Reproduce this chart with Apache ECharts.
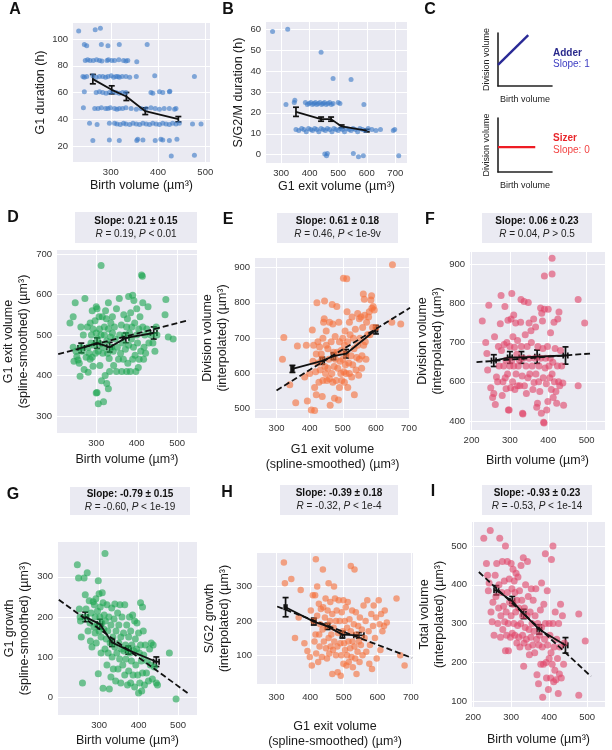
<!DOCTYPE html>
<html>
<head>
<meta charset="utf-8">
<script src="https://cdn.jsdelivr.net/npm/echarts@6/dist/echarts.min.js"></script>
<style>
  html, body { margin: 0; background: #fff; }
  #chart { width: 612px; height: 750px; }
</style>
</head>
<body>
<div id="chart"></div>
<script>
const FONT = '"Liberation Sans", Arial, Helvetica, sans-serif'
const BG = '#eaeaf2'

// ---------- A: G1 duration vs birth volume ----------
const aXTicks = [300, 400, 500]
const aYTicks = [20, 40, 60, 80, 100]
const aPts = [
  [232,106],[267,107],[278,108],
  [244,96],[249,95],[280,96],[294,95],[318,96],[377,96],
  [246,84],[251,84.5],[256,84],[263,84],[270,84.5],[276,84],[281,83.5],[292,84],[295,84.5],[302,84],[308,84],[317,84.5],[327,84],[332,83.5],[336,84],[355,83],
  [241,72],[244,71.5],[249,72],[262,72.5],[269,71.5],[276,72],[283,72],[289,71.5],[294,72],[301,72.5],[306,71.5],[311,72],[315,72],[318,71.5],[324,72],[332,72],[340,71.5],[354,72],[393,72.5],[477,72],
  [244,60.5],[269,60],[276,60.5],[283,60],[290,59.5],[297,60],[304,60.5],[311,60],[318,59.5],[325,60],[332,60],[385,60],[389,59.5],[403,60.5],[410,60],[424,60.5],[425,61],
  [242,48.5],[266,48],[273,48],[280,48.5],[289,48],[294,48],[299,48.5],[308,48],[313,47.5],[318,48],[325,48],[332,48.5],[343,48],[354,47.5],[364,48],[375,48],[385,48.5],[394,48],[403,47.5],[413,48],[424,48],[435,47.5],[438,48],
  [255,37],[271,36],[297,37],[308,37],[313,36.5],[320,36],[327,37],[332,36.5],[340,36],[347,37],[354,36.5],[361,36],[368,37],[375,36.5],[382,36],[389,37],[396,36.5],[403,36],[410,37],[417,36.5],[424,36],[431,37],[438,36.5],[445,37],[473,36.5],[491,36.5],
  [262,24],[297,24.5],[318,24],[355,24],[357,25],[368,24.5],[394,24],[406,25],[410,24.5],[424,24],[440,25],
  [428,12.5],[477,13]
]
const aMeanX = [262, 302, 333, 373, 443]
const aMeanY = [70, 62, 57, 46, 40]
const aMeanYErr = [3.5, 3, 3, 2.5, 2]

// ---------- B: S/G2/M duration vs G1 exit volume ----------
const bXTicks = [300, 400, 500, 600, 700]
const bYTicks = [0, 10, 20, 30, 40, 50, 60]
const bPts = [
  [270,59],[323,60],[440,49],[482,36.5],[545,36],
  [317,24],[346,25],[348,26],
  [385,25],[392,24],[398,24.5],[404,25],[410,24],[415,24.5],[420,25],[425,24],[430,24.5],[436,25],[442,24],[447,24.5],[452,25],[458,24],[464,24.5],[470,25],[476,24],[482,24.5],[500,25],[506,24.5],[590,24],
  [352,12],[362,11.5],[372,12.5],[380,12],[388,11],[396,12.5],[404,12],[410,11.5],[418,12.5],[425,12],[432,11],[440,12.5],[447,12],[455,11.5],[462,12.5],[470,12],[478,11],[485,12.5],[492,12],[500,11.5],[508,12.5],[515,12],[522,11],[530,12.5],[538,12],[545,11.5],[552,12.5],[560,12],[568,11],[576,12.5],[585,12],[594,11.5],[605,12.5],[618,12],[632,11.5],[648,12],[693,11.5],[698,12],
  [453,0.3],[459,-0.5],[462,0.5],[553,0.5],[571,-1],[588,-0.5],[712,-0.5]
]
const bMeanX = [352, 440, 475, 512, 600]
const bMeanY = [20.5, 17, 17, 13.5, 11.5]
const bMeanYErr = [2.2, 1, 1, 0.7, 0.6]

// ---------- C: schematic ----------
const adderLine = [[0, 0.4], [0.56, 0.96]]
const sizerLine = [[0, 0.46], [0.69, 0.46]]

// ---------- D ----------
const dXTicks = [300, 400, 500]
const dYTicks = [300, 400, 500, 600, 700]
const dPts = [
  [235,530],[243,545],[248,580],[252,447],[255,438],[258,430],[262,520],[262,470],[265,460],[268,500],[270,415],[272,590],[275,445],[278,520],[280,408],[282,455],[285,530],[287,480],[288,500],[290,560],[290,445],[292,515],[295,475],[297,535],[298,455],[300,505],[300,570],[302,565],[303,490],[305,330],[305,460],[307,545],[308,515],[309,425],[310,478],[312,672],[312,500],[313,387],[315,545],[316,455],[318,335],[318,470],[320,520],[320,500],[322,400],[323,560],[325,540],[326,485],[328,455],[330,515],[330,580],[332,442],[333,410],[335,495],[336,530],[338,470],[340,545],[340,505],[342,460],[343,425],[345,520],[347,490],[350,410],[350,565],[352,470],[355,440],[357,590],[358,500],[360,455],[362,525],[363,410],[365,480],[367,440],[368,550],[370,500],[372,465],[375,410],[375,520],[377,540],[378,430],[380,475],[380,595],[382,505],[384,410],[385,555],[387,490],[388,520],[390,440],[390,598],[392,470],[393,585],[395,530],[396,450],[398,410],[400,500],[400,565],[402,480],[404,420],[405,515],[406,440],[408,545],[410,460],[412,648],[414,645],[415,520],[415,580],[417,440],[418,470],[420,500],[422,455],[425,515],[428,570],[430,480],[435,500],[440,480],[445,460],[448,520],[450,500],[470,550],[472,588],[478,495],[490,490],[300,357],[302,358],[260,398],[243,470],[250,460],[245,435],[280,470],[285,440],[292,423],[326,380],[330,367]
]
const dMeanX = [263, 302, 333, 373, 442]
const dMeanY = [468, 480, 470, 493, 505]
const dMeanXErr = [8, 8, 7, 8, 8]
const dMeanYErr = [12, 13, 12, 12, 15]
const dFitX = [206, 529]
const dFitY = [453, 537]

// ---------- E ----------
const eXTicks = [300, 400, 500, 600, 700]
const eYTicks = [500, 600, 700, 800, 900]
const ePts = [
  [318,640],[322,702],[340,568],[358,517],[363,678],[385,590],[390,680],[393,522],[400,600],[405,497],[408,723],[410,635],[412,680],[415,495],[415,560],[418,605],[420,540],[420,655],[422,800],[425,690],[425,630],[428,575],[430,675],[432,610],[435,655],[437,640],[438,535],[440,580],[440,700],[442,745],[444,755],[445,805],[446,620],[448,600],[450,720],[450,680],[452,580],[455,670],[455,615],[458,640],[460,745],[460,585],[462,510],[465,690],[467,600],[468,795],[470,740],[470,575],[472,660],[474,620],[475,530],[477,705],[478,640],[480,580],[482,790],[483,660],[485,615],[487,525],[488,745],[490,690],[490,560],[492,635],[494,600],[495,665],[497,580],[500,700],[500,640],[502,870],[503,605],[505,680],[505,575],[507,720],[508,625],[510,655],[510,600],[512,868],[513,775],[515,690],[515,560],[518,630],[520,745],[520,600],[522,710],[525,650],[527,590],[528,760],[530,625],[532,700],[534,670],[535,540],[538,725],[540,610],[542,645],[545,770],[545,680],[548,595],[550,755],[550,640],[552,700],[555,760],[557,615],[558,650],[560,730],[562,825],[563,680],[565,810],[566,765],[568,690],[570,640],[572,745],[575,710],[578,760],[580,775],[582,710],[585,808],[587,820],[588,785],[590,730],[592,790],[595,780],[600,730],[648,745],[650,908],[675,740]
]
const eMeanX = [348, 438, 472, 510, 600]
const eMeanY = [613, 636, 649, 656, 724]
const eMeanXErr = [4, 6, 6, 6, 5]
const eMeanYErr = [10, 10, 10, 12, 12]
const eFitX = [300, 703]
const eFitY = [552, 786]

// ---------- F ----------
const fXTicks = [200, 300, 400, 500]
const fYTicks = [500, 600, 700, 800, 900]
const fYTickLabels = ['400', '600', '700', '800', '900']
const fPts = [
  [228,755],[237,700],[240,672],[242,630],[245,795],[250,585],[255,560],[258,570],[260,715],[262,542],[265,612],[268,600],[270,690],[272,640],[275,748],[277,820],[278,680],[280,565],[282,600],[284,640],[285,695],[287,792],[288,610],[290,655],[290,582],[292,700],[294,620],[295,757],[296,528],[298,528],[300,690],[300,640],[302,585],[303,760],[305,825],[305,655],[307,600],[308,715],[310,770],[310,640],[312,688],[313,580],[315,750],[316,620],[318,670],[320,590],[320,705],[322,640],[325,655],[326,590],[328,752],[329,810],[330,690],[332,615],[333,520],[334,518],[335,660],[337,805],[338,590],[340,720],[342,640],[343,570],[345,690],[347,610],[348,802],[350,660],[350,750],[352,620],[355,730],[356,700],[358,640],[360,580],[362,760],[363,598],[365,660],[367,740],[368,620],[370,535],[372,545],[373,690],[375,600],[376,640],[378,575],[380,788],[380,660],[382,520],[383,775],[385,755],[386,685],[387,610],[388,497],[389,495],[390,785],[390,870],[392,635],[393,660],[395,595],[396,528],[398,690],[399,550],[400,785],[402,640],[404,610],[405,660],[406,725],[408,580],[410,620],[410,875],[410,915],[412,650],[413,560],[415,752],[416,600],[418,685],[420,575],[422,545],[424,640],[425,760],[427,600],[428,778],[430,590],[432,680],[435,640],[438,597],[440,540],[478,810],[478,590],[495,750]
]
const fMeanX = [258, 300, 330, 371, 445]
const fMeanY = [654, 662, 662, 664, 667]
const fMeanXErr = [6, 6, 6, 6, 6]
const fMeanYErr = [15, 15, 15, 17, 22]
const fFitX = [213, 509]
const fFitY = [650, 672]

// ---------- G ----------
const gXTicks = [300, 400, 500]
const gYTicks = [0, 100, 200, 300]
const gPts = [
  [245,330],[248,297],[250,220],[252,200],[253,190],[255,150],[258,35],[262,297],[265,255],[267,220],[268,200],[270,310],[272,165],[275,240],[277,185],[278,140],[280,210],[282,125],[285,238],[287,175],[288,230],[290,160],[290,200],[292,245],[293,135],[295,180],[296,215],[298,58],[298,290],[300,165],[300,258],[302,200],[303,225],[305,150],[305,110],[307,185],[308,260],[310,235],[310,22],[312,170],[313,205],[315,358],[315,120],[316,190],[318,145],[320,230],[320,80],[322,165],[323,110],[325,200],[326,20],[328,135],[330,180],[330,50],[332,222],[333,100],[335,150],[336,70],[338,195],[340,125],[340,232],[342,40],[343,165],[345,110],[347,210],[348,70],[350,135],[350,180],[352,95],[353,230],[355,150],[355,35],[357,120],[358,200],[360,80],[362,160],[363,115],[365,55],[365,230],[367,130],[368,95],[370,180],[372,30],[373,120],[375,150],[375,65],[377,200],[378,110],[380,35],[380,165],[382,90],[383,130],[385,205],[386,55],[388,115],[390,190],[390,25],[392,145],[393,80],[395,120],[396,185],[398,55],[400,160],[400,10],[402,110],[403,35],[405,130],[405,235],[407,90],[408,15],[410,225],[410,60],[412,165],[413,105],[415,30],[417,130],[420,60],[422,90],[425,40],[428,120],[430,80],[432,135],[435,45],[437,130],[440,75],[445,35],[448,30],[478,110],[495,-5]
]
const gMeanX = [265, 302, 333, 374, 445]
const gMeanY = [200, 182, 136, 117, 88]
const gMeanXErr = [7, 7, 6, 7, 7]
const gMeanYErr = [12, 12, 10, 10, 12]
const gFitX = [198, 527]
const gFitY = [243, 8]

// ---------- H ----------
const hXTicks = [300, 400, 500, 600, 700]
const hYTicks = [100, 200, 300]
const hPts = [
  [322,370],[325,310],[344,322],[355,150],[366,210],[372,290],[383,135],[392,112],[399,95],[402,230],[405,70],[408,275],[410,200],[413,140],[415,275],[416,160],[417,380],[418,105],[421,300],[421,215],[424,80],[426,250],[427,160],[428,125],[430,190],[432,235],[435,95],[437,175],[438,350],[439,240],[441,140],[444,210],[446,265],[447,120],[449,185],[450,90],[452,230],[455,310],[455,150],[457,105],[459,200],[460,255],[461,125],[463,160],[466,220],[466,45],[468,115],[470,180],[471,300],[472,140],[474,265],[477,100],[477,200],[479,230],[481,125],[482,50],[483,165],[485,260],[488,200],[490,135],[491,40],[493,100],[494,225],[497,170],[499,260],[499,75],[501,135],[503,200],[504,115],[506,240],[508,70],[510,180],[510,100],[512,255],[514,140],[515,80],[517,205],[519,120],[521,360],[521,170],[523,95],[525,230],[526,140],[527,65],[530,190],[532,125],[532,350],[534,90],[536,225],[537,160],[538,45],[541,110],[543,185],[545,140],[547,80],[548,210],[551,130],[554,175],[556,100],[559,245],[562,150],[565,200],[567,110],[570,260],[574,170],[576,75],[578,130],[582,220],[584,60],[587,185],[589,245],[593,150],[596,210],[598,90],[604,260],[607,190],[609,115],[611,220],[615,170],[620,185],[622,230],[628,195],[657,265],[668,100],[681,70]
]
const hMeanX = [327, 411, 452, 496, 545]
const hMeanY = [240, 198, 184, 160, 158]
const hMeanXErr = [4, 6, 6, 6, 15]
const hMeanYErr = [28, 10, 9, 10, 8]
const hFitX = [302, 703]
const hFitY = [242, 92]

// ---------- I ----------
const iXTicks = [200, 300, 400, 500]
const iYTicks = [100, 200, 300, 400, 500]
const iPts = [
  [228,520],[235,455],[238,425],[240,385],[242,405],[245,540],[247,330],[250,305],[252,355],[255,270],[258,425],[260,370],[262,455],[265,300],[267,340],[268,400],[270,520],[272,265],[273,320],[275,380],[277,460],[278,285],[280,345],[282,410],[283,305],[285,500],[285,230],[287,330],[288,270],[290,380],[290,460],[292,300],[293,230],[295,415],[296,355],[298,265],[300,455],[300,320],[302,390],[303,275],[305,440],[305,350],[307,300],[308,410],[310,270],[310,380],[312,330],[313,430],[315,250],[315,360],[317,295],[318,420],[320,265],[320,340],[322,385],[323,240],[325,300],[326,450],[328,360],[330,270],[330,320],[332,470],[333,190],[334,250],[335,340],[337,290],[338,400],[340,260],[342,320],[343,460],[345,240],[345,370],[347,285],[348,220],[350,330],[352,265],[353,390],[355,300],[357,245],[358,360],[360,280],[362,225],[363,320],[365,390],[367,260],[368,168],[370,300],[372,145],[373,245],[375,270],[377,335],[378,195],[380,290],[380,405],[382,240],[383,110],[385,195],[386,350],[388,260],[390,480],[390,300],[392,200],[393,160],[395,385],[396,245],[398,130],[400,300],[400,210],[402,270],[404,160],[405,225],[406,465],[408,195],[410,500],[410,300],[412,150],[413,240],[415,180],[416,330],[418,155],[420,260],[422,210],[424,120],[425,300],[427,170],[428,240],[430,350],[432,160],[435,320],[438,195],[440,250],[478,115],[478,325],[495,255]
]
const iMeanX = [261, 303, 333, 374, 443]
const iMeanY = [386, 358, 325, 285, 244]
const iMeanXErr = [6, 6, 6, 6, 6]
const iMeanYErr = [12, 12, 12, 12, 20]
const iFitX = [215, 510]
const iFitY = [433, 164]

// ---------- annotation text ----------
const slopeText = ['0.21 ± 0.15', '0.61 ± 0.18', '0.06 ± 0.23', '-0.79 ± 0.15', '-0.39 ± 0.18', '-0.93 ± 0.23']
const rText = ['0.19', '0.46', '0.04', '-0.60', '-0.32', '-0.53']
const pText = ['< 0.01', '< 1e-9v', '> 0.5', '< 1e-19', '< 1e-4', '< 1e-14']

const GREEN = '#1fa653', ORANGE = '#f5713c', RED = '#e0476a', BLUE = '#3d7bc7'
const exitName = 'G1 exit volume\n(spline-smoothed) (µm³)'
const birthName = 'Birth volume (µm³)'

const panels = [
  { box: [73, 23, 137, 139], x: [220, 510, aXTicks], y: [8, 112, aYTicks], xName: birthName, xGap: 14, yName: 'G1 duration (h)', yGap: 19,
    pts: aPts, color: BLUE, size: 5, mx: aMeanX, my: aMeanY, mxe: null, mye: aMeanYErr },
  { box: [266, 22, 141, 141], x: [247, 741, bXTicks], y: [-4, 63.5, bYTicks], xName: 'G1 exit volume (µm³)', xGap: 14, yName: 'S/G2/M duration (h)', yGap: 19,
    pts: bPts, color: BLUE, size: 5, mx: bMeanX, my: bMeanY, mxe: null, mye: bMeanYErr },
  { box: [56, 250, 141, 183], x: [203, 549, dXTicks], y: [258, 710, dYTicks], xName: birthName, xGap: 19, yName: 'G1 exit volume\n(spline-smoothed) (µm³)', yGap: 26,
    pts: dPts, color: GREEN, size: 7, mx: dMeanX, my: dMeanY, mxe: dMeanXErr, mye: dMeanYErr, fx: dFitX, fy: dFitY },
  { box: [255, 258, 155, 160], x: [235, 703, eXTicks], y: [474, 927, eYTicks], xName: exitName, xGap: 24, yName: 'Division volume\n(interpolated) (µm³)', yGap: 21,
    pts: ePts, color: ORANGE, size: 7, mx: eMeanX, my: eMeanY, mxe: eMeanXErr, mye: eMeanYErr, fx: eFitX, fy: eFitY },
  { box: [470, 252, 135, 178], x: [196, 548, fXTicks], y: [477, 931, fYTicks, fYTickLabels], xName: birthName, xGap: 23, yName: 'Division volume\n(interpolated) (µm³)', yGap: 20,
    pts: fPts, color: RED, size: 7, mx: fMeanX, my: fMeanY, mxe: fMeanXErr, mye: fMeanYErr, fx: fFitX, fy: fFitY },
  { box: [58, 542, 139, 173], x: [196, 548, gXTicks], y: [-45, 387, gYTicks], xName: birthName, xGap: 18, yName: 'G1 growth\n(spline-smoothed) (µm³)', yGap: 26,
    pts: gPts, color: GREEN, size: 7, mx: gMeanX, my: gMeanY, mxe: gMeanXErr, mye: gMeanYErr, fx: gFitX, fy: gFitY },
  { box: [257, 553, 156, 132], x: [242, 706, hXTicks], y: [16, 398, hYTicks], xName: exitName, xGap: 35, xMargin: 8, yName: 'S/G2 growth\n(interpolated) (µm³)', yGap: 22,
    pts: hPts, color: ORANGE, size: 6.5, mx: hMeanX, my: hMeanY, mxe: hMeanXErr, mye: hMeanYErr, fx: hFitX, fy: hFitY },
  { box: [472, 522, 133, 185], x: [197, 547, iXTicks], y: [85, 562, iYTicks], xName: birthName, xGap: 25, yName: 'Total volume\n(interpolated) (µm³)', yGap: 20,
    pts: iPts, color: RED, size: 7, mx: iMeanX, my: iMeanY, mxe: iMeanXErr, mye: iMeanYErr, fx: iFitX, fy: iFitY }
]

function valueAxis(r, name, gap, idx, margin) {
  const ticks = r[2], labels = r[3]
  return {
    type: 'value', gridIndex: idx, min: r[0], max: r[1],
    axisLine: { show: false }, axisTick: { show: false, customValues: ticks },
    axisLabel: {
      customValues: ticks, fontSize: 9.5, color: '#333', fontFamily: FONT, margin: margin || 5,
      formatter: v => labels ? labels[ticks.indexOf(v)] : String(v)
    },
    splitLine: { show: true, lineStyle: { color: '#fff', width: 1 } },
    name: name, nameLocation: 'middle', nameGap: gap,
    nameTextStyle: { fontSize: 12.5, color: '#1a1a1a', fontFamily: FONT, lineHeight: 15 }
  }
}

function errBars(params, api) {
  const x = api.value(0), y = api.value(1), xe = api.value(2), ye = api.value(3)
  const st = { stroke: '#111', lineWidth: 1.7 }
  const cap = 3, kids = []
  const seg = (a, b) => kids.push({ type: 'line', shape: { x1: a[0], y1: a[1], x2: b[0], y2: b[1] }, style: st })
  if (ye > 0) {
    const t = api.coord([x, y + ye]), b = api.coord([x, y - ye])
    seg(t, b); seg([t[0] - cap, t[1]], [t[0] + cap, t[1]]); seg([b[0] - cap, b[1]], [b[0] + cap, b[1]])
  }
  if (xe > 0) {
    const l = api.coord([x - xe, y]), r = api.coord([x + xe, y])
    seg(l, r); seg([l[0], l[1] - cap], [l[0], l[1] + cap]); seg([r[0], r[1] - cap], [r[0], r[1] + cap])
  }
  return { type: 'group', children: kids }
}

const grids = [], xAxes = [], yAxes = [], series = []
panels.forEach((p, i) => {
  grids.push({ left: p.box[0], top: p.box[1], width: p.box[2], height: p.box[3], show: true, backgroundColor: BG, borderWidth: 0 })
  xAxes.push(valueAxis(p.x, p.xName, p.xGap, i, p.xMargin))
  yAxes.push(valueAxis(p.y, p.yName, p.yGap, i, 5))
  series.push({ type: 'scatter', xAxisIndex: i, yAxisIndex: i, data: p.pts, symbolSize: p.size,
    itemStyle: { color: p.color, opacity: 0.62 }, silent: true })
  if (p.fx) {
    series.push({ type: 'line', xAxisIndex: i, yAxisIndex: i, data: p.fx.map((v, k) => [v, p.fy[k]]),
      symbol: 'none', lineStyle: { color: '#111', width: 1.8, type: [6, 3] }, silent: true })
  }
  series.push({ type: 'line', xAxisIndex: i, yAxisIndex: i, data: p.mx.map((v, k) => [v, p.my[k]]),
    symbol: 'none', lineStyle: { color: '#111', width: 1.8 }, silent: true })
  series.push({ type: 'custom', xAxisIndex: i, yAxisIndex: i, renderItem: errBars, silent: true,
    encode: { x: 0, y: 1 },
    data: p.mx.map((v, k) => [v, p.my[k], p.mxe ? p.mxe[k] : 0, p.mye[k]]) })
})

// panel C: two small schematic axes
const cBoxes = [[498, 33, 54, 53], [498, 118, 54, 54]]
const cLines = [adderLine, sizerLine]
const cColors = ['#2a2a96', '#ee1c24']
cBoxes.forEach((b, k) => {
  const i = grids.length
  grids.push({ left: b[0], top: b[1], width: b[2], height: b[3] })
  const ax = (name, gap) => ({
    type: 'value', gridIndex: i, min: 0, max: 1,
    axisLine: { show: true, lineStyle: { color: '#222', width: 1.6 } },
    axisTick: { show: false }, axisLabel: { show: false }, splitLine: { show: false },
    name: name, nameLocation: 'middle', nameGap: gap,
    nameTextStyle: { fontSize: 9, color: '#222', fontFamily: FONT }
  })
  xAxes.push(ax('Birth volume', 9))
  yAxes.push(ax('Division volume', 7))
  series.push({ type: 'line', xAxisIndex: i, yAxisIndex: i, data: cLines[k], symbol: 'none',
    lineStyle: { color: cColors[k], width: 2.4 }, silent: true })
})

// letters, stat boxes, schematic labels
const letters = [['A', 15, 10], ['B', 228, 10], ['C', 430, 10], ['D', 13, 218], ['E', 228, 220], ['F', 430, 220], ['G', 13, 495], ['H', 227, 493], ['I', 433, 492]]
const statBoxes = [[75, 212, 122, 31], [277, 213, 121, 30], [482, 213, 110, 30], [70, 487, 120, 28], [280, 485, 118, 30], [482, 485, 110, 30]]
const graphic = []
letters.forEach(l => graphic.push({ type: 'text', x: l[1], y: l[2],
  style: { text: l[0], font: 'bold 16px ' + FONT, fill: '#111', align: 'center', verticalAlign: 'middle' } }))
statBoxes.forEach((b, k) => {
  graphic.push({ type: 'rect', shape: { x: b[0], y: b[1], width: b[2], height: b[3] }, style: { fill: BG } })
  graphic.push({ type: 'text', x: b[0] + b[2] / 2, y: b[1] + b[3] / 2,
    style: {
      text: '{b|Slope: ' + slopeText[k] + '}\n{i|R}{n| = ' + rText[k] + ', }{i|P}{n| ' + pText[k] + '}',
      align: 'center', verticalAlign: 'middle', fill: '#222',
      rich: {
        b: { fontFamily: FONT, fontSize: 10, fontWeight: 'bold', lineHeight: 13, fill: '#111' },
        i: { fontFamily: FONT, fontSize: 10, fontStyle: 'italic', lineHeight: 13, fill: '#222' },
        n: { fontFamily: FONT, fontSize: 10, lineHeight: 13, fill: '#222' }
      }
    } })
})
const cLabels = [['Adder', 553, 53, '#2a2a8c', 'bold'], ['Slope: 1', 553, 64, '#3d3dc2', 'normal'],
                 ['Sizer', 553, 138, '#e8262b', 'bold'], ['Slope: 0', 553, 150, '#f24443', 'normal']]
cLabels.forEach(c => graphic.push({ type: 'text', x: c[1], y: c[2],
  style: { text: c[0], font: c[4] + ' 10px ' + FONT, fill: c[3], align: 'left', verticalAlign: 'middle' } }))

const chart = echarts.init(document.getElementById('chart'))
chart.setOption({
  animation: false,
  backgroundColor: '#fff',
  textStyle: { fontFamily: FONT },
  grid: grids, xAxis: xAxes, yAxis: yAxes, series: series, graphic: graphic
})
</script>
</body>
</html>
